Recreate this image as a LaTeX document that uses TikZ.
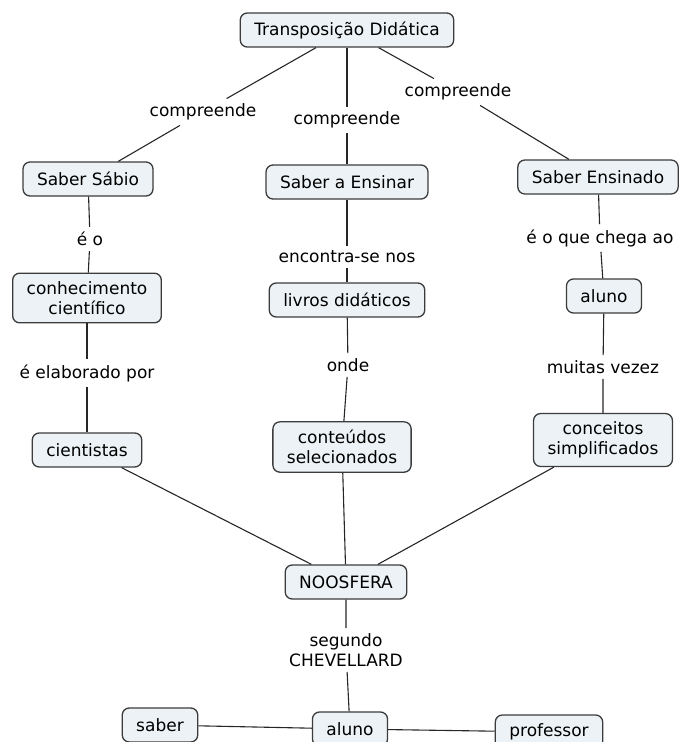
\documentclass[tikz,border=0pt]{standalone}
\usepackage{fontspec}
\setmainfont{DejaVu Sans}
\usepackage{xcolor}
\usepackage{tikz}
\usetikzlibrary{positioning}

\definecolor{conceptfill}{RGB}{236,242,245}
\definecolor{conceptline}{RGB}{60,60,60}

\begin{document}
\begin{tikzpicture}[x=1pt, y=-1pt,
        concept/.style={draw=conceptline, fill=conceptfill, line width=1.3pt, rounded corners=7pt,
            align=center, inner xsep=14pt, inner ysep=8pt, minimum height=34pt,
            font=\fontsize{17}{20.5}\selectfont},
        linkword/.style={align=center, inner sep=5pt, font=\fontsize{17}{20}\selectfont},
        link/.style={line width=1.1pt, black!85}]
                \useasboundingbox (0, 0) rectangle (679, 742);

                \node[concept] (tpd) at (347, 30) {Transposição Didática};
                \node[concept] (sabio) at (88, 179) {Saber Sábio};
                \node[concept] (ensinar) at (347, 182) {Saber a Ensinar};
                \node[concept] (ensinado) at (598, 177) {Saber Ensinado};
                \node[concept] (conhec) at (87, 298) {conhecimento\\científico};
                \node[concept] (livros) at (347, 300) {livros didáticos};
                \node[concept] (aluno1) at (604, 296) {aluno};
                \node[concept] (cient) at (87, 450) {cientistas};
                \node[concept] (conteudos) at (342, 447) {conteúdos\\selecionados};
                \node[concept] (conceitos) at (603, 440) {conceitos\\simplificados};
                \node[concept] (noosfera) at (346, 582) {NOOSFERA};
                \node[concept] (saber) at (160, 725) {saber};
                \node[concept] (aluno2) at (350, 729) {aluno};
                \node[concept] (professor) at (549, 732) {professor};

                \node[linkword] (c1) at (203, 112) {compreende};
                \node[linkword] (c2) at (347, 120) {compreende};
                \node[linkword] (c3) at (458, 92) {compreende};
                \node[linkword] (eo) at (90, 239) {é o};
                \node[linkword] (encontra) at (347, 257) {encontra-se nos};
                \node[linkword] (chega) at (600, 238) {é o que chega ao};
                \node[linkword] (elab) at (87, 373) {é elaborado por};
                \node[linkword] (onde) at (348, 365) {onde};
                \node[linkword] (muitas) at (603, 367) {muitas vezez};
                \node[linkword] (segundo) at (346, 650) {segundo\\CHEVELLARD};

                \draw[link] (tpd) -- (c1) -- (sabio);
                \draw[link] (tpd) -- (c2) -- (ensinar);
                \draw[link] (tpd) -- (c3) -- (ensinado);
                \draw[link] (sabio) -- (eo) -- (conhec);
                \draw[link] (conhec) -- (elab) -- (cient);
                \draw[link] (ensinar) -- (encontra) -- (livros);
                \draw[link] (livros) -- (onde) -- (conteudos);
                \draw[link] (ensinado) -- (chega) -- (aluno1);
                \draw[link] (aluno1) -- (muitas) -- (conceitos);
                \draw[link] (cient) -- (noosfera);
                \draw[link] (conteudos) -- (noosfera);
                \draw[link] (conceitos) -- (noosfera);
                \draw[link] (noosfera) -- (segundo) -- (aluno2);
                \draw[link] (saber) -- (aluno2);
                \draw[link] (aluno2) -- (professor);
            \end{tikzpicture}
\end{document}
